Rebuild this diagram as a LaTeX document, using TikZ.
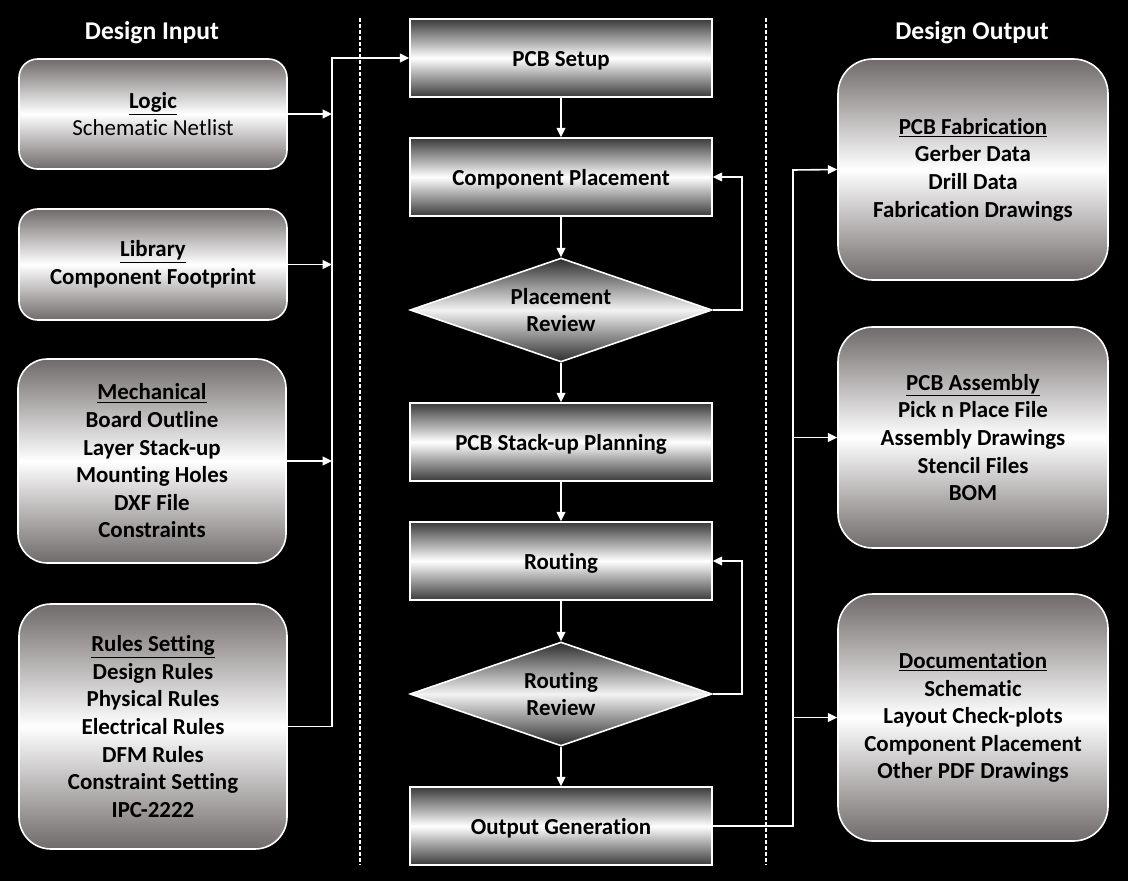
\documentclass[tikz,border=0pt]{standalone}
\usepackage{fontspec}
\setmainfont{Carlito}[Ligatures=NoCommon]
\usetikzlibrary{shapes.geometric,arrows.meta,calc}
\newdimen\pxu \pxu=0.75pt
\definecolor{rgray}{RGB}{112,106,106}
\definecolor{cgray}{RGB}{58,58,58}
\definecolor{dgray}{RGB}{45,45,45}
\tikzset{
  x=0.75pt, y=-0.75pt,
  txt/.style={font=\fontsize{17.2}{20.7}\selectfont\bfseries, align=center, text=black},
  inbox/.style={txt, draw=white, line width=1.2pt, rounded corners=14pt, top color=rgray, bottom color=rgray, middle color=white, minimum width=268*\pxu, inner sep=0pt},
  outbox/.style={txt, draw=white, line width=1.2pt, rounded corners=26pt, top color=rgray, bottom color=rgray, middle color=white, minimum width=270*\pxu, inner sep=0pt},
  procbox/.style={txt, draw=white, line width=1.2pt, top color=cgray, bottom color=cgray, middle color=white, minimum width=302*\pxu, minimum height=78*\pxu, inner sep=0pt, text height=16.5pt, text depth=4.3pt},
  decbox/.style={txt, shape=diamond, aspect=2.9, draw=white, line width=1.2pt, top color=dgray, bottom color=dgray, middle color=white!95!black, minimum width=302*\pxu, minimum height=104*\pxu, inner sep=0pt},
  head/.style={font=\fontsize{19.2}{23}\selectfont\bfseries, text=white},
  conn/.style={draw=white, line width=1.2pt},
  arr/.style={conn, -{Triangle[length=7pt,width=6.5pt]}},
  divider/.style={draw=white, line width=1.2pt, dash pattern=on 3pt off 1.5pt},
}
\begin{document}
\begin{tikzpicture}
\fill[black] (0,0) rectangle (1128,881);
\useasboundingbox (0,0) rectangle (1128,881);

% headings
\node[head] (hin) at (152,32.5) {Design Input};
\node[head] (hout) at (972,32.5) {Design Output};

% dividers
\draw[divider] (360,18) -- (360,865);
\draw[divider] (766,18) -- (766,865);

% input boxes
\node[inbox, minimum height=110*\pxu] (logic) at (153,114) {\underline{Logic}\\\mdseries Schematic Netlist};
\node[inbox, minimum height=111*\pxu] (lib) at (153,264.5) {\underline{Library}\\Component Footprint};
\node[inbox, rounded corners=22pt, minimum height=204*\pxu] (mech) at (152,461) {\underline{Mechanical}\\Board Outline\\Layer Stack-up\\Mounting Holes\\DXF File\\Constraints};
\node[inbox, rounded corners=24pt, minimum height=245*\pxu] (rules) at (153,726.5) {\underline{Rules Setting}\\Design Rules\\Physical Rules\\Electrical Rules\\DFM Rules\\Constraint Setting\\IPC-2222};

% process column
\node[procbox] (setup) at (561,58) {PCB Setup};
\node[procbox] (place) at (561,177) {Component Placement};
\node[decbox] (prev) at (561,310) {Placement\\Review};
\node[procbox] (stack) at (561,442) {PCB Stack-up Planning};
\node[procbox] (route) at (561,561) {Routing};
\node[decbox] (rrev) at (561,694) {Routing\\Review};
\node[procbox] (outg) at (561,826) {Output Generation};

% output boxes
\node[outbox, minimum height=221*\pxu] (fab) at (973,169.5) {\underline{PCB Fabrication}\\Gerber Data\\Drill Data\\Fabrication Drawings};
\node[outbox, minimum height=221*\pxu] (asm) at (973,437.5) {\underline{PCB Assembly}\\Pick n Place File\\Assembly Drawings\\Stencil Files\\BOM};
\node[outbox, minimum height=247*\pxu] (doc) at (973,717.5) {\underline{Documentation}\\Schematic\\Layout Check-plots\\Component Placement\\Other PDF Drawings};

% input bus
\coordinate (bus) at (332,58);
\draw[arr] (rules.east) -| (bus) -- (setup.west);
\draw[arr] (logic.east) -- (logic.east -| bus);
\draw[arr] (lib.east) -- (lib.east -| bus);
\draw[arr] (mech.east) -- (mech.east -| bus);

% main flow
\draw[arr] (setup) -- (place);
\draw[arr] (place) -- (prev);
\draw[arr] (prev) -- (stack);
\draw[arr] (stack) -- (route);
\draw[arr] (route) -- (rrev);
\draw[arr] (rrev) -- (outg);

% feedback loops
\draw[arr] (prev.east) -- ++(29,0) |- (place.east);
\draw[arr] (rrev.east) -- ++(29,0) |- (route.east);

% output bus
\coordinate (obus) at (793,170);
\draw[arr] (outg.east) -| (obus) -- (fab.west);
\draw[arr] (asm.west -| obus) -- (asm.west);
\draw[arr] (doc.west -| obus) -- (doc.west);
\end{tikzpicture}
\end{document}
